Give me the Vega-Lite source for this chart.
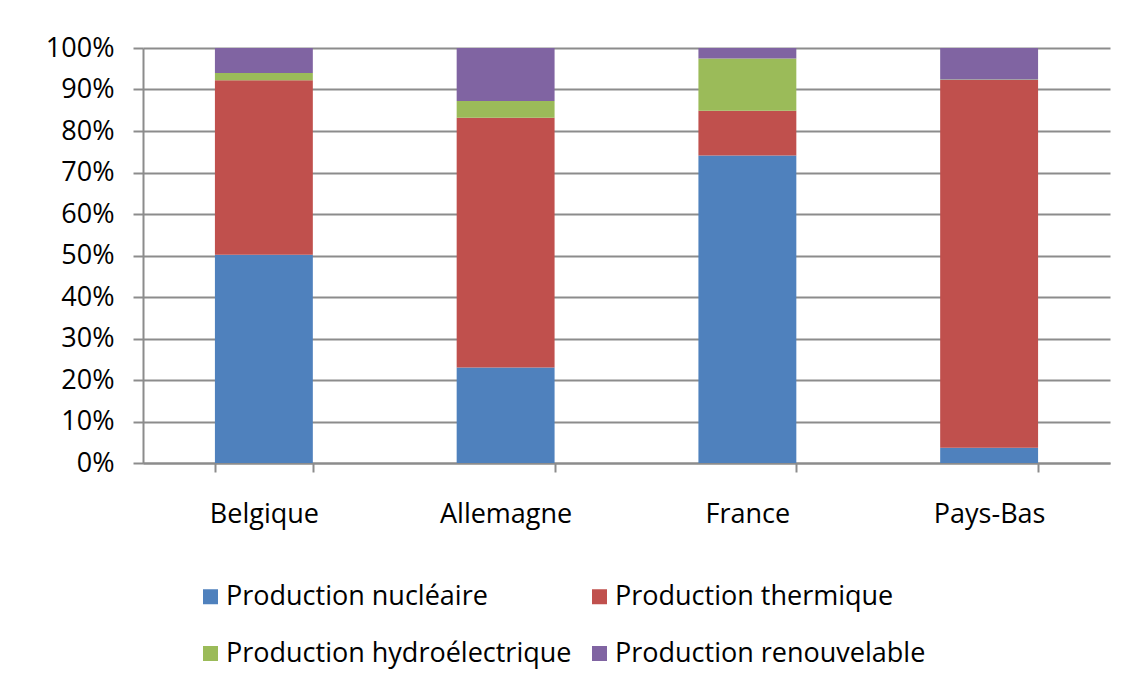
{
  "$schema": "https://vega.github.io/schema/vega-lite/v6.json",
  "width": 967,
  "height": 415,
  "autosize": {"type": "none"},
  "padding": {"left": 143, "top": 48, "right": 21, "bottom": 223},
  "background": "#ffffff",
  "config": {
    "view": {"stroke": null},
    "font": "Open Sans",
    "axis": {
      "labelFont": "Open Sans",
      "labelFontSize": 27,
      "labelColor": "#000000",
      "domainColor": "#8c8c8c",
      "domainWidth": 2,
      "tickColor": "#8c8c8c",
      "tickWidth": 2,
      "gridColor": "#8c8c8c",
      "gridWidth": 2,
      "gridOpacity": 1,
      "title": null
    }
  },
  "data": {
    "values": [
      {"pays": "Belgique", "source": "Production nucléaire", "ordre": 1, "part": 0.502},
      {"pays": "Belgique", "source": "Production thermique", "ordre": 2, "part": 0.420},
      {"pays": "Belgique", "source": "Production hydroélectrique", "ordre": 3, "part": 0.018},
      {"pays": "Belgique", "source": "Production renouvelable", "ordre": 4, "part": 0.060},
      {"pays": "Allemagne", "source": "Production nucléaire", "ordre": 1, "part": 0.230},
      {"pays": "Allemagne", "source": "Production thermique", "ordre": 2, "part": 0.602},
      {"pays": "Allemagne", "source": "Production hydroélectrique", "ordre": 3, "part": 0.040},
      {"pays": "Allemagne", "source": "Production renouvelable", "ordre": 4, "part": 0.128},
      {"pays": "France", "source": "Production nucléaire", "ordre": 1, "part": 0.741},
      {"pays": "France", "source": "Production thermique", "ordre": 2, "part": 0.108},
      {"pays": "France", "source": "Production hydroélectrique", "ordre": 3, "part": 0.126},
      {"pays": "France", "source": "Production renouvelable", "ordre": 4, "part": 0.025},
      {"pays": "Pays-Bas", "source": "Production nucléaire", "ordre": 1, "part": 0.037},
      {"pays": "Pays-Bas", "source": "Production thermique", "ordre": 2, "part": 0.886},
      {"pays": "Pays-Bas", "source": "Production hydroélectrique", "ordre": 3, "part": 0.001},
      {"pays": "Pays-Bas", "source": "Production renouvelable", "ordre": 4, "part": 0.076}
    ]
  },
  "mark": {"type": "bar"},
  "encoding": {
    "x": {
      "field": "pays",
      "type": "nominal",
      "sort": ["Belgique", "Allemagne", "France", "Pays-Bas"],
      "scale": {"paddingInner": 0.595, "paddingOuter": 0.2975},
      "axis": {
        "labelAngle": 0,
        "tickBand": "extent",
        "tickSize": 9,
        "labelPadding": 29,
        "grid": false
      }
    },
    "y": {
      "field": "part",
      "type": "quantitative",
      "stack": "zero",
      "scale": {"domain": [0, 1], "nice": false},
      "axis": {
        "values": [0, 0.1, 0.2, 0.3, 0.4, 0.5, 0.6, 0.7, 0.8, 0.9, 1],
        "format": ".0%",
        "tickSize": 10,
        "labelPadding": 19,
        "grid": true
      }
    },
    "order": {"field": "ordre", "sort": "ascending"},
    "color": {
      "field": "source",
      "type": "nominal",
      "scale": {
        "domain": ["Production nucléaire", "Production thermique", "Production hydroélectrique", "Production renouvelable"],
        "range": ["#4f81bd", "#c0504d", "#9bbb59", "#8064a2"]
      },
      "legend": {
        "title": null,
        "orient": "none",
        "legendX": 54,
        "legendY": 535,
        "direction": "horizontal",
        "columns": 2,
        "columnPadding": 14,
        "rowPadding": 29,
        "symbolType": "square",
        "symbolSize": 225,
        "symbolStrokeWidth": 0,
        "labelFont": "Open Sans",
        "labelFontSize": 27,
        "labelColor": "#000000",
        "labelOffset": 2,
        "labelLimit": 500
      }
    }
  }
}
